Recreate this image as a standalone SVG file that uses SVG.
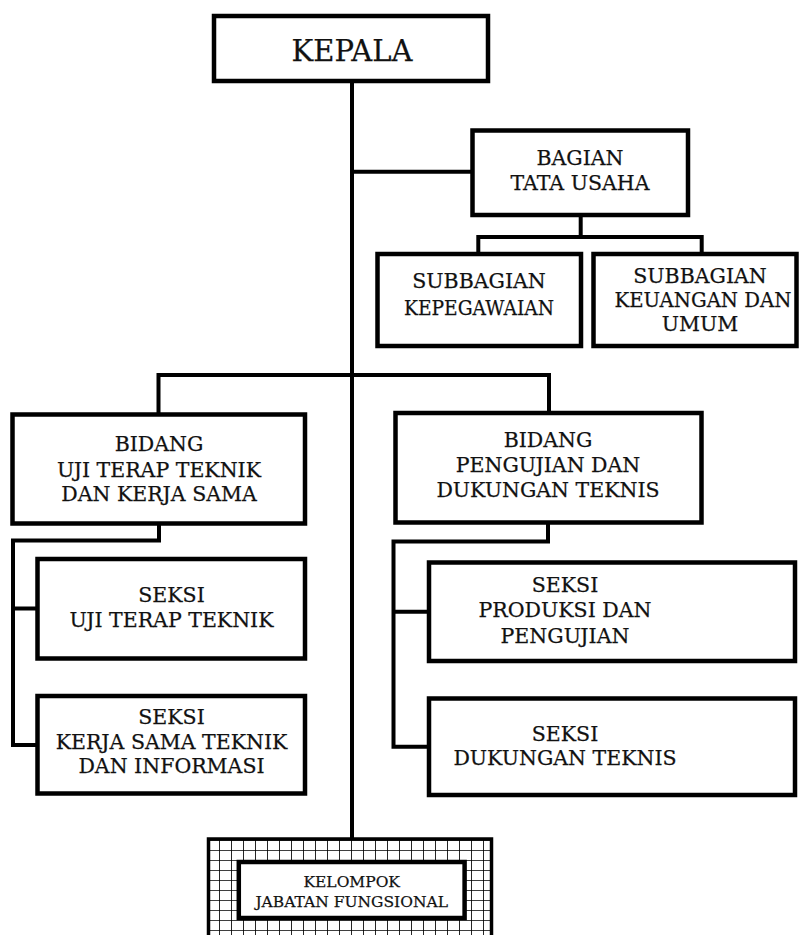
<svg xmlns="http://www.w3.org/2000/svg" width="799" height="935" viewBox="0 0 799 935">
<style>
.box{fill:#fff;stroke:#000;stroke-width:4.5}
.con{fill:none;stroke:#000;stroke-width:4;stroke-linejoin:miter;stroke-linecap:square}
text{font-family:"DejaVu Serif","Liberation Serif",serif;fill:#111;stroke:#111;stroke-width:0.25;text-anchor:middle;font-size:20.5px}
.big{font-size:29px}
.small{font-size:15.5px}
</style>
<defs>
<pattern id="grid" x="207" y="840" width="12" height="10" patternUnits="userSpaceOnUse">
<rect width="12" height="10" fill="#fff"/>
<path d="M0 0V10M0 0H12" stroke="#000" stroke-width="1.7" fill="none"/>
</pattern>
</defs>
<rect width="799" height="935" fill="#fff"/>
<g id="connectors">
<path class="con" d="M352 81V837"/>
<path class="con" d="M352 171.7H472.5"/>
<path class="con" d="M580.7 215V237"/>
<path class="con" d="M478.3 254V237H701.7V254"/>
<path class="con" d="M158.5 414.5V375H549V413"/>
<path class="con" d="M159 523.5V540.5H13V745H37.5M13 608.5H37.5"/>
<path class="con" d="M548 522.5V541.5H393.5V746.7H429M393.5 611.7H429"/>
</g>
<g id="kepala">
<rect class="box" x="214" y="16" width="274" height="65"/>
<text class="big" x="352" y="60.5">KEPALA</text>
</g>
<g id="bagian-tata-usaha">
<rect class="box" x="472.5" y="130.5" width="215.5" height="84.5"/>
<text x="580" y="165">BAGIAN</text>
<text x="580" y="190">TATA USAHA</text>
</g>
<g id="subbagian-kepegawaian">
<rect class="box" x="377.5" y="254" width="203.5" height="92"/>
<text x="479" y="287.5">SUBBAGIAN</text>
<text x="479" y="315" textLength="150" lengthAdjust="spacingAndGlyphs">KEPEGAWAIAN</text>
</g>
<g id="subbagian-keuangan">
<rect class="box" x="593.5" y="254" width="203" height="92"/>
<text x="700" y="282.7">SUBBAGIAN</text>
<text x="703" y="306.5" textLength="177" lengthAdjust="spacingAndGlyphs">KEUANGAN DAN</text>
<text x="700" y="331">UMUM</text>
</g>
<g id="bidang-uji-terap">
<rect class="box" x="12.5" y="414.5" width="292.5" height="109"/>
<text x="159" y="450.7">BIDANG</text>
<text x="159" y="476.7">UJI TERAP TEKNIK</text>
<text x="159" y="500.5">DAN KERJA SAMA</text>
</g>
<g id="bidang-pengujian">
<rect class="box" x="395.5" y="413" width="306" height="109.5"/>
<text x="548" y="447.3">BIDANG</text>
<text x="548" y="471.7">PENGUJIAN DAN</text>
<text x="548" y="497.3">DUKUNGAN TEKNIS</text>
</g>
<g id="seksi-uji-terap">
<rect class="box" x="37.5" y="559" width="267.5" height="99.5"/>
<text x="171.5" y="601.7">SEKSI</text>
<text x="171.5" y="626.7">UJI TERAP TEKNIK</text>
</g>
<g id="seksi-kerja-sama">
<rect class="box" x="37.5" y="696" width="267.5" height="97.5"/>
<text x="171.5" y="724">SEKSI</text>
<text x="171.5" y="749.3">KERJA SAMA TEKNIK</text>
<text x="171.5" y="773.3">DAN INFORMASI</text>
</g>
<g id="seksi-produksi">
<rect class="box" x="429" y="562.5" width="366" height="98.5"/>
<text x="565" y="591.7">SEKSI</text>
<text x="565" y="617.3">PRODUKSI DAN</text>
<text x="565" y="642.7">PENGUJIAN</text>
</g>
<g id="seksi-dukungan">
<rect class="box" x="429" y="698.5" width="366" height="96.5"/>
<text x="565" y="740.7">SEKSI</text>
<text x="565" y="765">DUKUNGAN TEKNIS</text>
</g>
<g id="kelompok-jabatan-fungsional">
<rect x="208.5" y="839" width="283" height="100" fill="url(#grid)" stroke="#000" stroke-width="3.5"/>
<rect class="box" x="238.8" y="862" width="225.8" height="56" stroke-width="4"/>
<text class="small" x="351.7" y="886.7">KELOMPOK</text>
<text class="small" x="351.7" y="907.3">JABATAN FUNGSIONAL</text>
</g>
</svg>
